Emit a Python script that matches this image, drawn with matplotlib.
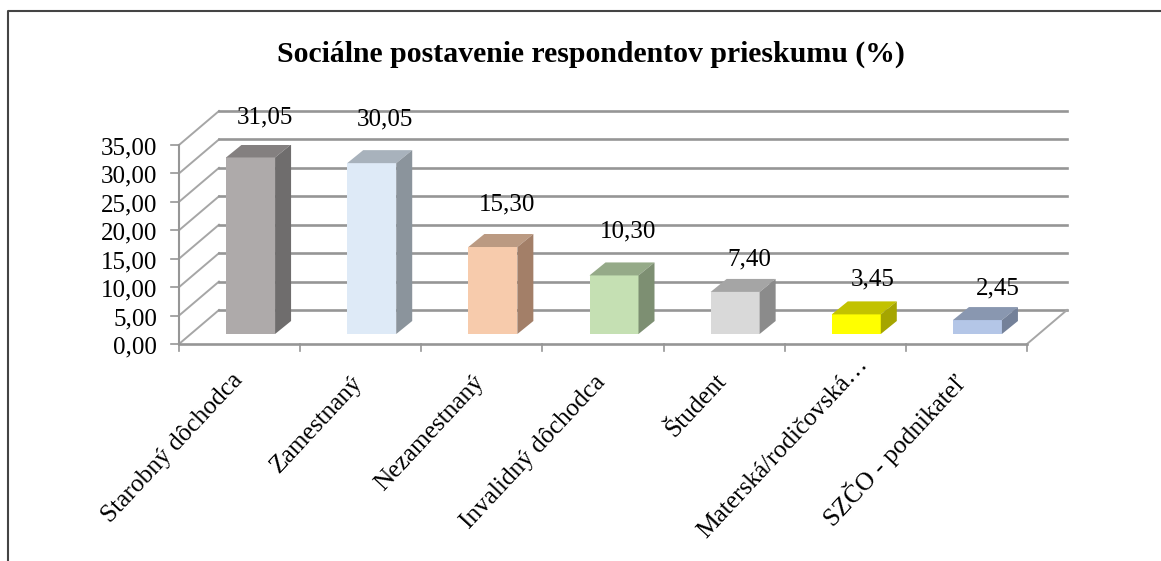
#!/usr/bin/env python
import matplotlib
matplotlib.use('Agg')
import matplotlib.pyplot as plt
from matplotlib.patches import Polygon, Rectangle

plt.rcParams['font.family'] = ['Liberation Serif', 'DejaVu Serif']

categories = ['Starobný dôchodca', 'Zamestnaný', 'Nezamestnaný', 'Invalidný dôchodca',
              'Študent', 'Materská/rodičovská…', 'SZČO - podnikateľ']
values = [31.05, 30.05, 15.30, 10.30, 7.40, 3.45, 2.45]
value_labels = ['31,05', '30,05', '15,30', '10,30', '7,40', '3,45', '2,45']
y_ticks = [0, 5, 10, 15, 20, 25, 30, 35]
y_tick_labels = ['0,00', '5,00', '10,00', '15,00', '20,00', '25,00', '30,00', '35,00']
front_colors = ['#aeaaaa', '#deeaf7', '#f7cbac', '#c5e0b3', '#d9d9d9', '#ffff00', '#b4c6e7']
top_colors = ['#848080', '#a8b2bc', '#bb9a82', '#95aa88', '#a5a5a5', '#c2c200', '#8997b0']
side_colors = ['#6f6d6d', '#8b949c', '#a37f68', '#7d8f72', '#8b8b8b', '#a5a500', '#748199']
# label offsets in pixels: along x from the bar centre, along y above the bar back top
label_dx = [14, 13, 14, 14, 14, 16, 20]
label_dy = [27, 31, 30, 31, 19, 22, 19]
# where each category label's baseline ends, pixels from the tick slot centre / below the floor edge
cat_dx = [4, 3, 3, 3, 3, 23, 1]
cat_dy = [37, 39, 39, 39, 37, 21, 40]

W, H = 1161, 561
fig = plt.figure(figsize=(W / 100, H / 100), dpi=100)
fig.patch.set_facecolor('white')

# front floor edge: x 179..1027, y=0 at 344, y=35 at 145
ax = fig.add_axes([179 / W, 1 - 344 / H, 848 / W, 199 / H])
ax.set_xlim(0, 7)
ax.set_ylim(0, 35)
ax.axis('off')

px_x = 7 / 848
px_y = 35 / 199
depth_x = 40 * px_x
depth_y = 34 * px_y
grid = '#969696'

# floor and walls
for t in y_ticks:
    ax.plot([0, depth_x], [t, t + depth_y], color='#a6a6a6', lw=1.4, clip_on=False, zorder=1)
    ax.plot([depth_x, 7 + depth_x], [t + depth_y, t + depth_y], color=grid, lw=1.9, clip_on=False, zorder=1)
    ax.plot([-8 * px_x, 0], [t, t], color=grid, lw=1.2, clip_on=False, zorder=1)
    ax.text(-22 * px_x, t - 0.6, y_tick_labels[t // 5], ha='right', va='center', fontsize=18, color='black')
ax.plot([0, 0], [0, 35], color=grid, lw=1.5, clip_on=False, zorder=1)
ax.plot([0, 7], [0, 0], color=grid, lw=1.9, clip_on=False, zorder=1)
ax.plot([7, 7 + depth_x], [0, depth_y], color='#a6a6a6', lw=1.4, clip_on=False, zorder=1)
for i in range(8):
    ax.plot([i, i], [0, -7 * px_y], color=grid, lw=1.2, clip_on=False, zorder=1)

# bars
bar_w = 49 * px_x
bar_dx = 16 * px_x
bar_dy = 13 * px_y
base = 10 * px_y
shift = 11 * px_x
for i, v in enumerate(values):
    x0 = i + 0.5 + shift - bar_w / 2
    x1 = x0 + bar_w
    top = base + v
    ax.add_patch(Rectangle((x0, base), bar_w, v, fc=front_colors[i], ec='none', zorder=3))
    ax.add_patch(Polygon([(x0, top), (x1, top), (x1 + bar_dx, top + bar_dy), (x0 + bar_dx, top + bar_dy)],
                         fc=top_colors[i], ec='none', zorder=3))
    ax.add_patch(Polygon([(x1, base), (x1 + bar_dx, base + bar_dy), (x1 + bar_dx, top + bar_dy), (x1, top)],
                         fc=side_colors[i], ec='none', zorder=3))
    ax.text(i + 0.5 + shift + label_dx[i] * px_x, top + bar_dy + label_dy[i] * px_y, value_labels[i],
            ha='center', va='center', fontsize=18, color='black', zorder=4)
    ax.text(i + 0.5 + cat_dx[i] * px_x, -cat_dy[i] * px_y, categories[i], rotation=47, rotation_mode='anchor',
            ha='right', va='baseline', fontsize=18.3, color='black')

fig.text(591 / W, 1 - 54 / H, 'Sociálne postavenie respondentov prieskumu (%)', ha='center', va='center',
         fontsize=21.4, fontweight='bold', color='black')

# chart frame, only the top and left edges show
frame = fig.add_axes([0, 0, 1, 1], zorder=-1)
frame.set_xlim(0, W)
frame.set_ylim(H, 0)
frame.axis('off')
frame.plot([8, 8, W], [H, 11, 11], color='#444444', lw=1.5)

fig.savefig('out.png', dpi=100)
